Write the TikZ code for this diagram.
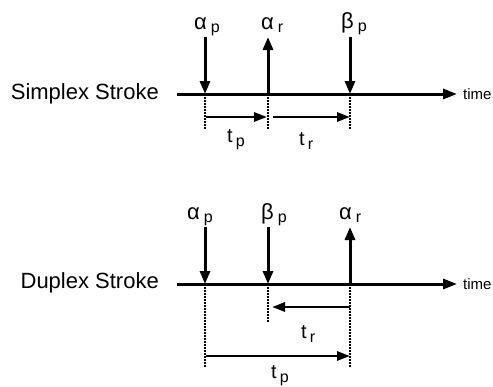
\documentclass[tikz,border=0pt]{standalone}
\usepackage{fontspec}
\setmainfont{Liberation Sans}
\usetikzlibrary{arrows.meta, math}

% greek letter with a spaced, lowered index
\newcommand{\gsub}[2]{#1\hspace{4pt}\raisebox{-3pt}{\fontsize{16}{16}\selectfont #2}}
\newcommand{\tsub}[1]{t\hspace{3pt}\raisebox{-4pt}{\fontsize{16}{16}\selectfont #1}}

\begin{document}
\begin{tikzpicture}[x=1pt,y=-1pt,
  axis/.style={line width=3pt,-{Triangle[length=14pt,width=10pt]}},
  stroke/.style={line width=3pt,-{Triangle[length=13pt,width=10pt]}},
  span/.style={line width=2.8pt,-{Triangle[length=13pt,width=9pt]}},
  guide/.style={line width=1.5pt,dash pattern=on 1.5pt off 1.5pt},
  glbl/.style={font=\fontsize{22}{24}\selectfont,inner sep=0pt,anchor=base west},
  tlbl/.style={font=\fontsize{20}{22}\selectfont,inner sep=0pt,anchor=base west},
  title/.style={font=\fontsize{22}{24}\selectfont,inner sep=0pt,anchor=base east},
  tword/.style={font=\fontsize{15}{16}\selectfont,inner sep=0pt,anchor=west}]

\useasboundingbox (0,0) rectangle (493,386);

\tikzmath{
\xa = 205; % first stroke
\xb = 268; % second
\xc = 350; % third
\yA = 94;  % simplex time line
\yB = 284; % duplex time line
\h = 57;   % stroke arrow length
}

%%% simplex stroke
\node[title] (simplex) at (159,99) {Simplex Stroke};
\coordinate (s0) at (177,\yA);
\node[tword] (stime) at (463,\yA) {time};
\draw[axis] (s0) -- ([xshift=-6pt]stime.west);

\coordinate (sa) at (\xa,\yA);
\coordinate (sb) at (\xb,\yA);
\coordinate (sc) at (\xc,\yA);
\coordinate (saT) at (\xa,\yA-\h);
\coordinate (sbT) at (\xb,\yA-\h);
\coordinate (scT) at (\xc,\yA-\h);

\node[glbl] (sap) at (194,29) {\gsub{α}{p}};
\node[glbl] (sar) at (261,29) {\gsub{α}{r}};
\node[glbl] (sbp) at (341,28) {\gsub{β}{p}};

\draw[stroke] (saT) -- (sa);
\draw[stroke] (sb) -- (sbT);
\draw[stroke] (scT) -- (sc);

\coordinate (saD) at (\xa,\yA+36);
\coordinate (sbD) at (\xb,\yA+36);
\coordinate (scD) at (\xc,\yA+36);
\draw[guide] (sa) -- (saD);
\draw[guide] (sb) -- (sbD);
\draw[guide] (sc) -- (scD);

\coordinate (stp0) at (\xa+1,\yA+23);
\coordinate (stp1) at (\xb-1,\yA+23);
\coordinate (str0) at (\xb+5,\yA+23);
\coordinate (str1) at (\xc,\yA+23);
\draw[span] (stp0) -- (stp1);
\draw[span] (str0) -- (str1);
\node[tlbl] (stp) at (227,142) {\tsub{p}};
\node[tlbl] (str) at (299,145) {\tsub{r}};

%%% duplex stroke
\node[title] (duplex) at (159,288) {Duplex Stroke};
\coordinate (d0) at (177,\yB);
\node[tword] (dtime) at (463,\yB) {time};
\draw[axis] (d0) -- ([xshift=-6pt]dtime.west);

\coordinate (da) at (\xa,\yB);
\coordinate (db) at (\xb,\yB);
\coordinate (dc) at (\xc,\yB);
\coordinate (daT) at (\xa,\yB-\h);
\coordinate (dbT) at (\xb,\yB-\h);
\coordinate (dcT) at (\xc,\yB-\h);

\node[glbl] (dap) at (187,219) {\gsub{α}{p}};
\node[glbl] (dbp) at (261,219) {\gsub{β}{p}};
\node[glbl] (dar) at (339,219) {\gsub{α}{r}};

\draw[stroke] (daT) -- (da);
\draw[stroke] (dbT) -- (db);
\draw[stroke] (dc) -- (dcT);

\coordinate (daD) at (\xa,\yB+83);
\coordinate (dbD) at (\xb,\yB+38);
\coordinate (dcD) at (\xc,\yB+83);
\draw[guide] (da) -- (daD);
\draw[guide] (db) -- (dbD);
\draw[guide] (dc) -- (dcD);

\coordinate (dtr0) at (\xc,\yB+23);
\coordinate (dtr1) at (\xb+4,\yB+23);
\coordinate (dtp0) at (\xa+1,\yB+72);
\coordinate (dtp1) at (\xc,\yB+72);
\draw[span] (dtr0) -- (dtr1);
\draw[span] (dtp0) -- (dtp1);
\node[tlbl] (dtr) at (301,338) {\tsub{r}};
\node[tlbl] (dtp) at (271,378) {\tsub{p}};

\end{tikzpicture}
\end{document}
